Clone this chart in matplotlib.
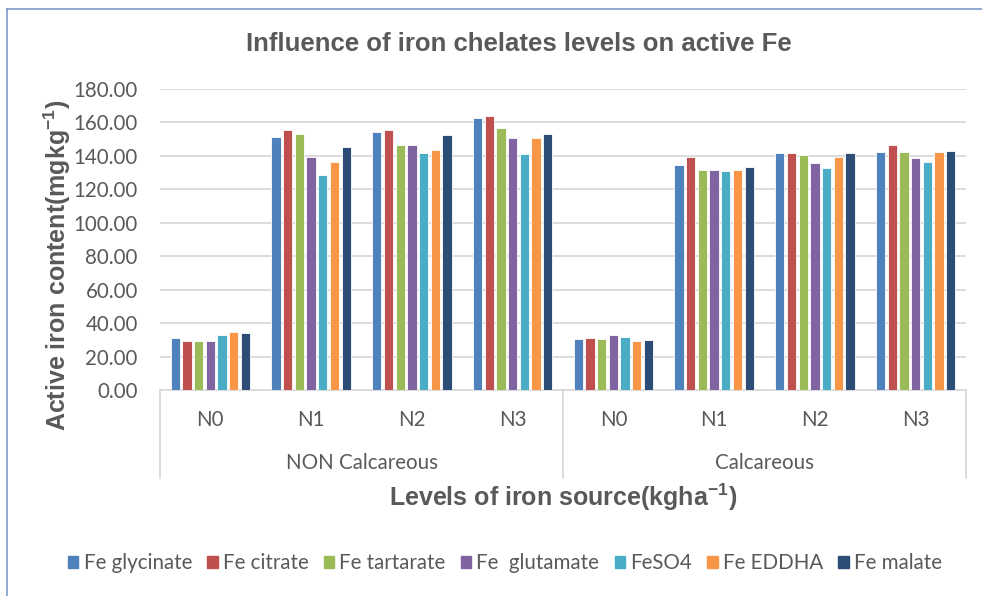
import matplotlib
matplotlib.use("Agg")
import matplotlib.pyplot as plt
import numpy as np
from matplotlib.patches import Rectangle
from matplotlib.lines import Line2D

levels = ["N0", "N1", "N2", "N3", "N0", "N1", "N2", "N3"]
groups = ["NON Calcareous", "Calcareous"]
series_names = ["Fe glycinate", "Fe citrate", "Fe tartarate", "Fe  glutamate",
                "FeSO4", "Fe EDDHA", "Fe malate"]

fe_glycinate = [30.9, 151.5, 154.3, 162.9, 30.5, 134.7, 141.7, 142.5]
fe_citrate   = [29.3, 155.5, 155.5, 163.7, 31.1, 139.1, 141.7, 146.7]
fe_tartarate = [29.5, 153.1, 146.7, 156.7, 30.5, 131.7, 140.5, 142.1]
fe_glutamate = [29.1, 139.5, 146.5, 150.7, 32.7, 131.7, 135.7, 138.9]
feso4        = [32.7, 128.3, 141.7, 140.9, 31.7, 130.9, 132.7, 136.5]
fe_eddha     = [34.5, 136.5, 143.3, 150.9, 29.3, 131.7, 139.5, 142.1]
fe_malate    = [33.9, 145.5, 152.7, 153.3, 30.1, 133.3, 141.7, 142.9]

series = [fe_glycinate, fe_citrate, fe_tartarate, fe_glutamate, feso4, fe_eddha, fe_malate]
colors = ["#4F81BD", "#C0504D", "#9BBB59", "#8064A2", "#4BACC6", "#F79646", "#2C4D75"]
yticks = [0, 20, 40, 60, 80, 100, 120, 140, 160, 180]

gray = "#595959"
grid = "#D9D9D9"
body_font = ["Lato", "DejaVu Sans"]
bold_font = ["Liberation Sans", "DejaVu Sans"]
fs = 14.8

plt.rcParams["mathtext.fontset"] = "custom"
plt.rcParams["mathtext.rm"] = "Liberation Sans:bold"
plt.rcParams["mathtext.default"] = "rm"

fig = plt.figure(figsize=(9.82, 5.96), dpi=100)
ax = fig.add_axes([160/982, 1-390/596, 806/982, 301/596])

# outer chart border (left + top visible)
fig.add_artist(Line2D([7/982, 7/982], [0, 1-9/596], transform=fig.transFigure, color="#7C9BCB", lw=1.2))
fig.add_artist(Line2D([7/982, 1], [1-9/596, 1-9/596], transform=fig.transFigure, color="#7C9BCB", lw=1.2))

n = len(levels)
x = np.arange(n) + 0.5
step = 0.116
width = 0.092
for i, (vals, c, name) in enumerate(zip(series, colors, series_names)):
    off = (i - 3) * step
    ax.bar(x + off, vals, width=width, color=c, edgecolor="white", linewidth=0.6,
           label=name, zorder=3)

ax.set_xlim(0, n)
ax.set_ylim(0, 180)
ax.set_yticks(yticks)
ax.set_yticklabels([f"{v:.2f}" for v in yticks], fontsize=fs, color=gray, family=body_font)
ax.tick_params(axis="y", length=0, pad=16)
ax.set_xticks([])
ax.yaxis.grid(True, color=grid, linewidth=1.3, zorder=0)
ax.set_axisbelow(True)
for s in ["top", "right", "left"]:
    ax.spines[s].set_visible(False)
ax.spines["bottom"].set_color(grid)
ax.spines["bottom"].set_linewidth(1.3)

tr = ax.get_xaxis_transform()
for xi, lab in zip(x, levels):
    ax.text(xi, -0.10, lab, transform=tr, ha="center", va="center",
            fontsize=fs, color=gray, family=body_font)
for gi, g in enumerate(groups):
    ax.text(gi * 4 + 2, -0.243, g, transform=tr, ha="center", va="center",
            fontsize=fs, color=gray, family=body_font)
for xd in [0, 4, 8]:
    ax.plot([xd, xd], [0, -0.292], transform=tr, color=grid, lw=1.3, clip_on=False)

fig.text(519/982, 1-44/596, "Influence of iron chelates levels on active Fe",
         ha="center", va="center", fontsize=18.5, fontweight="bold", color=gray, family=bold_font)
fig.text(57/982, 1-265/596, r"Active iron content(mgkg$^{\mathregular{-1}}$)", rotation=90,
         ha="center", va="center", fontsize=18, fontweight="bold", color=gray, family=bold_font)
fig.text(563/982, 1-497/596, r"Levels of iron source(kgha$^{\mathregular{-1}}$)",
         ha="center", va="center", fontsize=18, fontweight="bold", color=gray, family=bold_font)

handles = [Rectangle((0, 0), 1, 1, color=c) for c in colors]
leg = fig.legend(handles, series_names, loc="center", bbox_to_anchor=(505/982, 1-563/596),
                 ncol=7, frameon=False, handlelength=0.5, handleheight=0.5,
                 handletextpad=0.25, columnspacing=0.75,
                 prop={"family": body_font, "size": fs})
for t in leg.get_texts():
    t.set_color(gray)

fig.savefig("out.png", dpi=100, facecolor="white")
